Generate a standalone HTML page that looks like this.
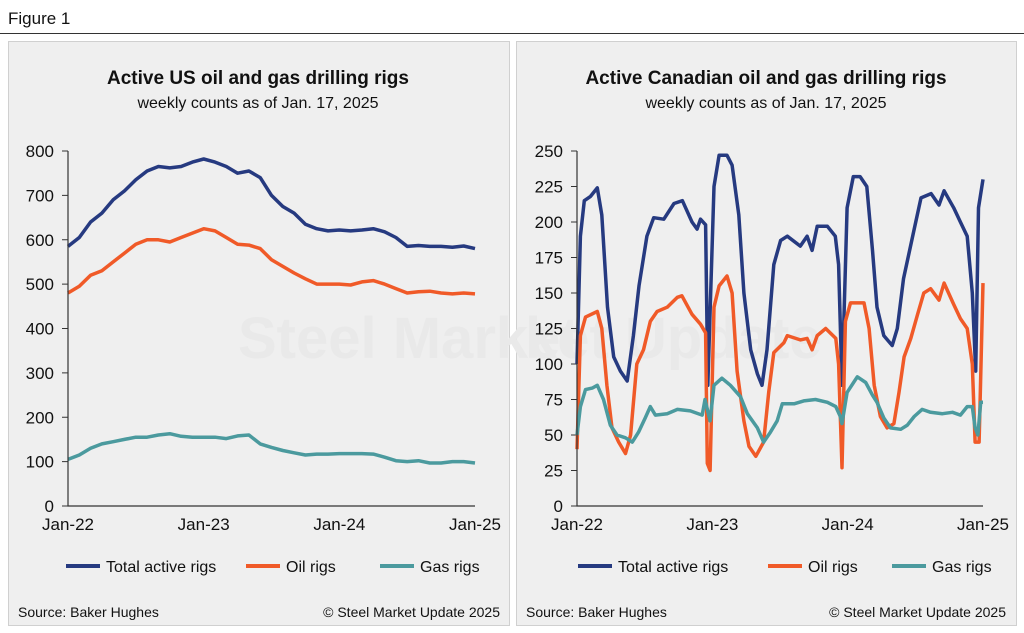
<!DOCTYPE html>
<html><head><meta charset="utf-8"><style>
body{margin:0;background:#fff;font-family:"Liberation Sans",Arial,sans-serif;}
svg{display:block}
text{font-family:"Liberation Sans",Arial,sans-serif;fill:#111}
</style></head><body>
<svg id="fig" width="1024" height="633">
<text x="8" y="24" font-size="17">Figure 1</text>
<line x1="0" y1="33.5" x2="1024" y2="33.5" stroke="#333" stroke-width="1"/>
<rect x="8.5" y="41.5" width="501" height="584" fill="#efefef" stroke="#d0d0d0"/>
<rect x="516.5" y="41.5" width="500" height="584" fill="#efefef" stroke="#d0d0d0"/>
<g id="left"></g><g id="right"></g>
</svg>
<script>
// ---- US data (months since Jan-22) ----
const usMonths=[0,1,2,3,4,5,6,7,8,9,10,11,12,13,14,15,16,17,18,19,20,21,22,23,24,25,26,27,28,29,30,31,32,33,34,35,36];
const usTotal=[585,605,640,660,690,710,735,755,765,762,765,775,782,775,765,750,755,740,700,675,660,635,625,620,622,620,622,625,618,605,585,587,585,585,583,586,580];
const usOil=[480,495,520,530,550,570,590,600,600,595,605,615,625,620,605,590,588,580,555,540,525,512,500,500,500,498,505,508,500,490,480,483,484,480,478,480,478];
const usGas=[105,115,130,140,145,150,155,155,160,163,157,155,155,155,152,158,160,140,132,125,120,115,117,117,118,118,118,117,110,102,100,102,97,97,100,100,97];
const usTicks=[0,100,200,300,400,500,600,700,800];
// ---- Canada data ----
const caTotalMonths=[0,0.3,0.65,1.2,1.8,2.2,2.7,3.25,3.85,4.45,5.0,5.5,6.2,6.8,7.7,8.6,9.35,10.2,10.65,10.95,11.4,11.6,12.15,12.6,13.3,13.75,14.35,14.8,15.4,16.0,16.4,16.85,17.45,18.05,18.65,19.8,20.4,20.85,21.3,22.2,22.9,23.2,23.5,23.95,24.5,25.1,25.7,26.2,26.6,27.2,27.95,28.4,28.95,29.9,30.5,31.4,32.1,32.55,33.4,34.0,34.6,35.05,35.35,35.6,36.0];
const caTotal=[100,190,215,218,224,205,140,105,95,88,120,155,190,203,202,213,215,200,195,202,198,85,225,247,247,240,205,150,110,93,85,110,170,187,190,183,190,180,197,197,190,170,85,210,232,232,225,180,140,120,113,125,160,195,217,220,212,222,210,200,190,150,95,210,230];
const caOilMonths=[0,0.3,0.75,1.8,2.2,2.65,3.1,3.7,4.3,4.75,5.3,5.9,6.5,7.1,8,8.9,9.3,10.2,10.95,11.4,11.55,11.8,12.15,12.6,13.3,13.75,14.2,14.8,15.25,15.85,16.55,17,17.45,18.35,18.65,19.8,20.4,20.85,21.3,22.05,22.95,23.2,23.5,23.8,24.25,25.45,25.9,26.35,26.9,27.5,28.1,28.55,29,29.6,30.2,30.75,31.35,32.1,32.55,33.4,34,34.6,35.05,35.3,35.65,36];
const caOil=[40,120,133,137,125,85,55,45,37,50,100,110,130,137,140,147,148,135,128,122,30,25,140,155,162,150,95,60,42,35,45,80,108,115,120,117,118,110,120,125,118,100,27,130,143,143,125,85,63,55,58,80,105,118,135,150,153,145,157,142,132,125,100,45,45,157];
const caGasMonths=[0,0.3,0.75,1.35,1.8,2.35,2.95,3.55,4.3,4.9,5.45,6.05,6.5,6.95,8,8.9,10.05,11.1,11.35,11.8,12.15,12.85,13.6,14.5,15.1,16,16.55,17.15,17.75,18.2,19.25,20.1,21.15,22.2,22.95,23.35,23.5,23.95,24.85,25.6,26.2,26.6,27.2,27.8,28.7,29.3,29.9,30.6,31.35,32.4,33.3,34,34.6,35.05,35.3,35.55,35.8,36];
const caGas=[50,70,82,83,85,75,57,50,48,45,52,62,70,64,65,68,67,64,75,60,85,90,85,77,65,55,45,52,60,72,72,74,75,73,70,63,58,80,91,87,78,73,62,55,54,57,63,68,66,65,66,64,70,70,55,50,73,73];
const caTicks=[0,25,50,75,100,125,150,175,200,225,250];
const xLabels=["Jan-22","Jan-23","Jan-24","Jan-25"];
const xLabelMonths=[0,12,24,36];
const colors={total:"#263a80",oil:"#f05a28",gas:"#4b9a9e"};
const NS="http://www.w3.org/2000/svg";
function mk(p,tag,a){const e=document.createElementNS(NS,tag);for(const k in a)e.setAttribute(k,a[k]);p.appendChild(e);return e;}
function chart(g,o){
 const x=m=>o.x0+m/36*(o.x1-o.x0);
 const y=v=>o.y0-v/o.max*(o.y0-o.y1);
 let t=mk(g,"text",{x:o.cx,y:84,"font-size":19,"font-weight":"bold","text-anchor":"middle"});t.textContent=o.title;
 
 
 t=mk(g,"text",{x:o.cx,y:108,"font-size":16,"text-anchor":"middle"});t.textContent="weekly counts as of Jan. 17, 2025";
 
 
 // watermark
 t=mk(g,"text",{x:o.wx,y:358,"font-size":58,"font-weight":"bold",style:"fill:#e9e9e9"});t.textContent=o.wm;
 
 
 o.ticks.forEach(v=>{
  const l=mk(g,"line",{x1:o.x0-6,x2:o.x0,y1:y(v),y2:y(v),stroke:"#333"});
  
  
  const tt=mk(g,"text",{x:o.x0-14,y:y(v)+6,"font-size":17,"text-anchor":"end"});tt.textContent=v;
  
  
 });
 xLabels.forEach((s,i)=>{
  const tt=mk(g,"text",{x:x(xLabelMonths[i]),y:530,"font-size":17,"text-anchor":"middle"});tt.textContent=s;
  
  
 });
 const series=[["total",o.tm,o.tv],["oil",o.om,o.ov],["gas",o.gm,o.gv]];
 series.forEach(([k,ms,vs])=>{
  const d=ms.map((m,i)=>(i?"L":"M")+x(m).toFixed(1)+","+y(vs[i]).toFixed(1)).join("");
  const p=mk(g,"path",{d,fill:"none",stroke:colors[k],"stroke-width":3.5,"stroke-linejoin":"round"});
  
  
 });
 const ax=mk(g,"path",{d:`M${o.x0},${o.y1}V${o.y0}H${o.x1}`,fill:"none",stroke:"#333","stroke-width":1.2});
 
 
 const leg=[["total","Total active rigs",o.lx[0]],["oil","Oil rigs",o.lx[1]],["gas","Gas rigs",o.lx[2]]];
 leg.forEach(([k,s,lx])=>{
  const lg=mk(g,"g",{});
  
  
  mk(lg,"line",{x1:lx,x2:lx+34,y1:566,y2:566,stroke:colors[k],"stroke-width":4});
  const tt=mk(lg,"text",{x:lx+40,y:572,"font-size":16});tt.textContent=s;
 });
 t=mk(g,"text",{x:o.sx,y:617,"font-size":14});t.textContent="Source: Baker Hughes";
 
 
 t=mk(g,"text",{x:o.cr,y:617,"font-size":14,"text-anchor":"end"});t.textContent="© Steel Market Update 2025";
 
 
}
chart(document.getElementById("left"),{x0:68,x1:475,y0:506,y1:151,max:800,cx:258,title:"Active US oil and gas drilling rigs",ticks:usTicks,tm:usMonths,tv:usTotal,om:usMonths,ov:usOil,gm:usMonths,gv:usGas,lx:[66,246,380],sx:18,cr:500,wx:238,wm:"Steel Market"});
chart(document.getElementById("right"),{x0:577,x1:983,y0:506,y1:151,max:250,cx:766,title:"Active Canadian oil and gas drilling rigs",ticks:caTicks,tm:caTotalMonths,tv:caTotal,om:caOilMonths,ov:caOil,gm:caGasMonths,gv:caGas,lx:[578,768,892],sx:526,cr:1006,wx:525,wm:"ket Update"});
</script>
</body></html>
